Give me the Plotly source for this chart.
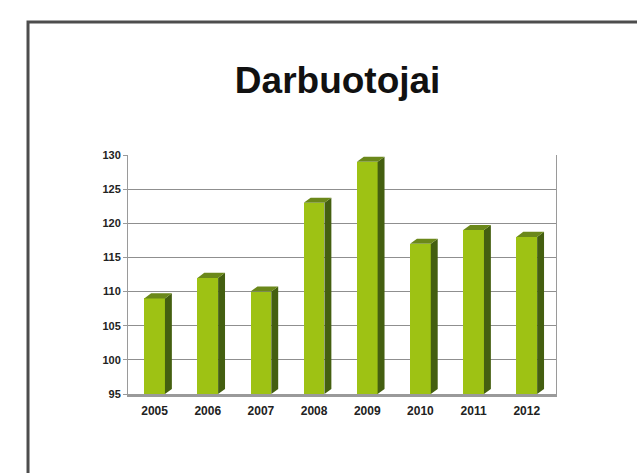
import plotly.graph_objects as go

categories = ["2005", "2006", "2007", "2008", "2009", "2010", "2011", "2012"]
values = [109, 112, 110, 123, 129, 117, 119, 118]
y_ticks = [95, 100, 105, 110, 115, 120, 125, 130]
title_text = "Darbuotojai"

base = 95
w = 0.39      # front face width (category units)
dx = 0.13     # depth offset x
dy = 0.75     # depth offset y (value units)

xs = list(range(len(categories)))

fig = go.Figure()

# front faces
fig.add_trace(go.Bar(
    x=xs, y=[v - base for v in values], base=base, width=w,
    marker=dict(color="#9ec214", line=dict(width=0)),
    hoverinfo="skip", showlegend=False,
))

# side faces
sx, sy = [], []
for i, v in zip(xs, values):
    r = i + w / 2
    sx += [r, r + dx, r + dx, r, r, None]
    sy += [base, base + dy, v + dy, v, base, None]
fig.add_trace(go.Scatter(
    x=sx, y=sy, mode="lines", fill="toself", fillcolor="#445f10",
    line=dict(width=0, color="#445f10"), hoverinfo="skip", showlegend=False,
))

# top faces
tx, ty = [], []
for i, v in zip(xs, values):
    l = i - w / 2
    r = i + w / 2
    tx += [l, l + dx, r + dx, r, l, None]
    ty += [v, v + dy, v + dy, v, v, None]
fig.add_trace(go.Scatter(
    x=tx, y=ty, mode="lines", fill="toself", fillcolor="#6b881a",
    line=dict(width=0, color="#6b881a"), hoverinfo="skip", showlegend=False,
))

# outer frame (extends past right/bottom edges)
fig.add_shape(type="rect", xref="paper", yref="paper",
              x0=-0.2336, y0=-0.6, x1=1.6, y1=1.5565,
              line=dict(color="#4d4d4d", width=3), layer="below")

fig.update_layout(
    width=637, height=473,
    margin=dict(l=128, r=81, t=155, b=79),
    paper_bgcolor="white", plot_bgcolor="white",
    title=dict(text="<b>%s</b>" % title_text, x=0.53, xanchor="center",
               y=0.83, yanchor="middle",
               font=dict(family="Liberation Sans, Arial", size=37, color="#111")),
    bargap=0,
    xaxis=dict(
        range=[-0.5, 7.55], tickvals=xs, ticktext=categories,
        showgrid=False, zeroline=False, showline=True,
        linecolor="#9a9a9a", linewidth=3, ticks="", ticklabelstandoff=4,
        tickfont=dict(family="Liberation Sans, Arial", size=12, color="#222",
                      weight="bold"),
        fixedrange=True,
    ),
    yaxis=dict(
        range=[95, 130], tickvals=y_ticks, ticktext=[str(t) for t in y_ticks],
        showgrid=True, gridcolor="#8f8f8f", gridwidth=1,
        zeroline=False, showline=True, mirror=True,
        linecolor="#9a9a9a", linewidth=1, ticks="outside", ticklen=4,
        tickcolor="#9a9a9a",
        tickfont=dict(family="Liberation Sans, Arial", size=11, color="#222",
                      weight="bold"),
        fixedrange=True,
    ),
)

fig.write_html("out.html", config={"displayModeBar": False},
               post_script="document.body.style.margin='0';document.body.style.overflow='hidden';")
